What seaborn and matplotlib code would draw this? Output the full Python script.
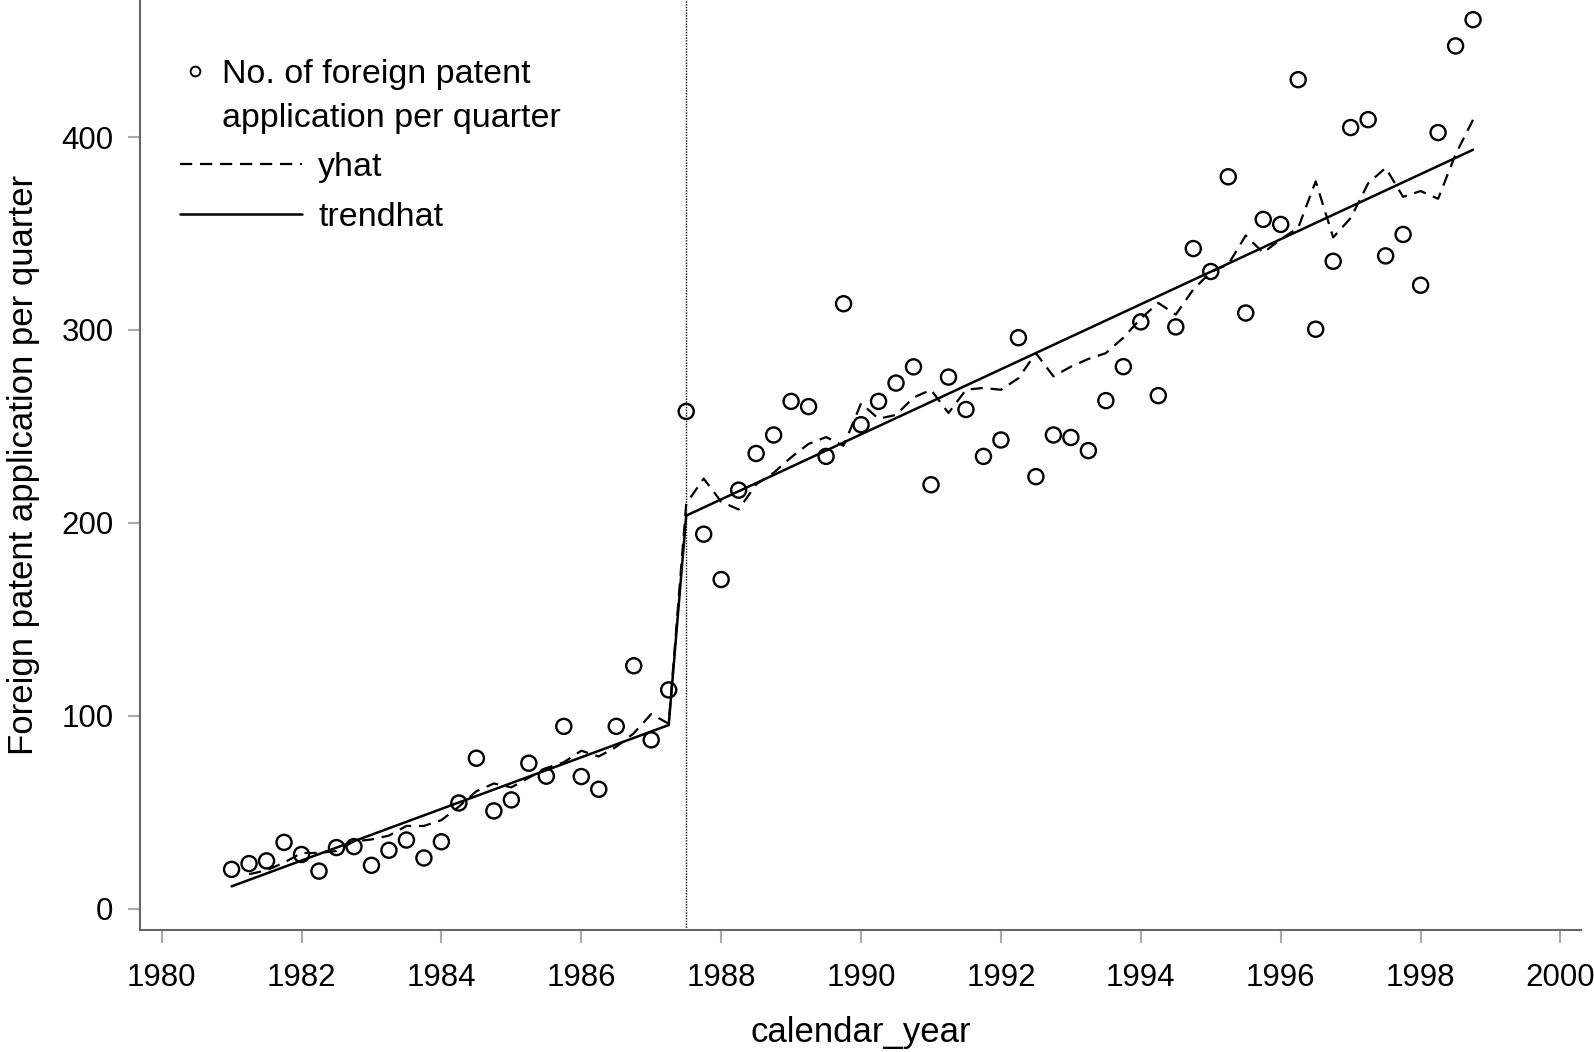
import numpy as np
import pandas as pd
import matplotlib
matplotlib.use("Agg")
import matplotlib.pyplot as plt
import seaborn as sns
from matplotlib.lines import Line2D

# quarterly data 1981Q1 .. 1998Q4
years = list(range(1981, 1999))

patents = [20.5, 23.5, 24.9, 34.5,
           28.2, 19.6, 31.8, 32.3,
           22.6, 30.4, 35.7, 26.4,
           34.8, 54.9, 78.1, 50.8,
           56.5, 75.5, 68.8, 94.6,
           68.6, 62.0, 94.6, 126.0,
           87.6, 113.5, 257.8, 194.2,
           170.7, 217.0, 236.0, 245.6,
           263.0, 260.3, 234.5, 313.6,
           250.9, 263.0, 272.5, 280.9,
           219.8, 275.6, 258.8, 234.5,
           243.0, 296.0, 224.0, 245.6,
           244.3, 237.5, 263.4, 281.0,
           304.2, 266.0, 301.6, 342.2,
           330.3, 379.4, 308.8, 357.3,
           354.7, 429.7, 300.4, 335.6,
           404.9, 409.0, 338.4, 349.5,
           323.2, 402.3, 447.2, 460.8]

yhat = [np.nan, 18, 20, 24,
        29, 29, 30, 35,
        36, 38, 43, 43,
        46, 53, 61, 65,
        63, 68, 73, 76,
        82, 79, 84, 91,
        101, 96, 210, 223,
        211, 207, 220, 226,
        234, 241, 244.5, 240,
        262, 254, 256, 265,
        269, 257, 269, 270,
        269, 275, 288, 276,
        281, 285, 288, 296,
        306, 314, 308, 321,
        330, 334, 349, 340,
        347, 353, 377, 348,
        358, 376, 384, 369,
        372, 368, 391, 409]

# fitted trend: piecewise linear with a break at 1987Q3
trend_x = [1981.0, 1987.25, 1987.5, 1998.75]
trend_y = [11.7, 95.3, 203.8, 393.4]
break_x = 1987.5

quarter = [y + q / 4 for y in years for q in range(4)]
df = pd.DataFrame({'calendar_year': quarter, 'patents': patents, 'yhat': yhat})
tr = pd.DataFrame({'calendar_year': trend_x, 'trendhat': trend_y})

sns.set_style('white')
plt.rcParams['font.family'] = ['Liberation Sans', 'DejaVu Sans']
plt.rcParams['text.color'] = 'black'
plt.rcParams['axes.labelcolor'] = 'black'

fig = plt.figure(figsize=(15.94, 10.52), dpi=100)
ax = fig.add_axes([0.0878, 0.116, 0.9039, 0.884])

dash = (0, (5.5, 3.5))
sns.lineplot(data=tr, x='calendar_year', y='trendhat', ax=ax, color='black',
             lw=1.8, estimator=None, errorbar=None)
sns.lineplot(data=df, x='calendar_year', y='yhat', ax=ax, color='black',
             lw=1.6, linestyle=dash, estimator=None, errorbar=None)
sns.scatterplot(data=df, x='calendar_year', y='patents', ax=ax,
                marker='o', s=118, edgecolor='black', linewidth=1.7)
ax.collections[-1].set_facecolor('none')
ax.collections[-1].set_edgecolor('black')

ax.axvline(break_x, color='black', lw=1, ls=(0, (1, 1)))

ax.set_xlim(1979.69, 2000.29)
ax.set_ylim(-10.9, 471)
ax.set_xticks(range(1980, 2001, 2))
ax.set_yticks(range(0, 401, 100))
ax.tick_params(bottom=True, left=True, direction='out', length=9, width=1.5,
               color='#aaaaaa', labelcolor='black', labelsize=22.5)
ax.tick_params(axis='x', pad=15)
ax.tick_params(axis='y', pad=10)
sns.despine(ax=ax)
for side in ['left', 'bottom']:
    ax.spines[side].set_color('#666666')
    ax.spines[side].set_linewidth(1.5)

ax.set_xlabel('calendar_year', fontsize=25, labelpad=16)
ax.set_ylabel('Foreign patent application per quarter', fontsize=25, labelpad=15)

# legend: circle entry and line entries have different text offsets
leg_a = ax.legend(
    handles=[Line2D([], [], marker='o', ls='none', mfc='none', mec='black',
                    ms=7, mew=1.4),
             Line2D([], [], ls='none')],
    labels=['No. of foreign patent', 'application per quarter'],
    loc='upper left', bbox_to_anchor=(180 / 1594, 1 - 59 / 1052),
    bbox_transform=fig.transFigure, frameon=False, fontsize=24.5,
    handlelength=0.88, handletextpad=0.34, labelspacing=0.39,
    borderpad=0, borderaxespad=0)
ax.add_artist(leg_a)
ax.legend(
    handles=[Line2D([], [], color='black', lw=1.6, ls=dash),
             Line2D([], [], color='black', lw=1.8)],
    labels=['yhat', 'trendhat'],
    loc='upper left', bbox_to_anchor=(180 / 1594, 1 - 152 / 1052),
    bbox_transform=fig.transFigure, frameon=False, fontsize=24.5,
    handlelength=3.59, handletextpad=0.47, labelspacing=0.56,
    borderpad=0, borderaxespad=0)

fig.savefig('out.png', dpi=100)
